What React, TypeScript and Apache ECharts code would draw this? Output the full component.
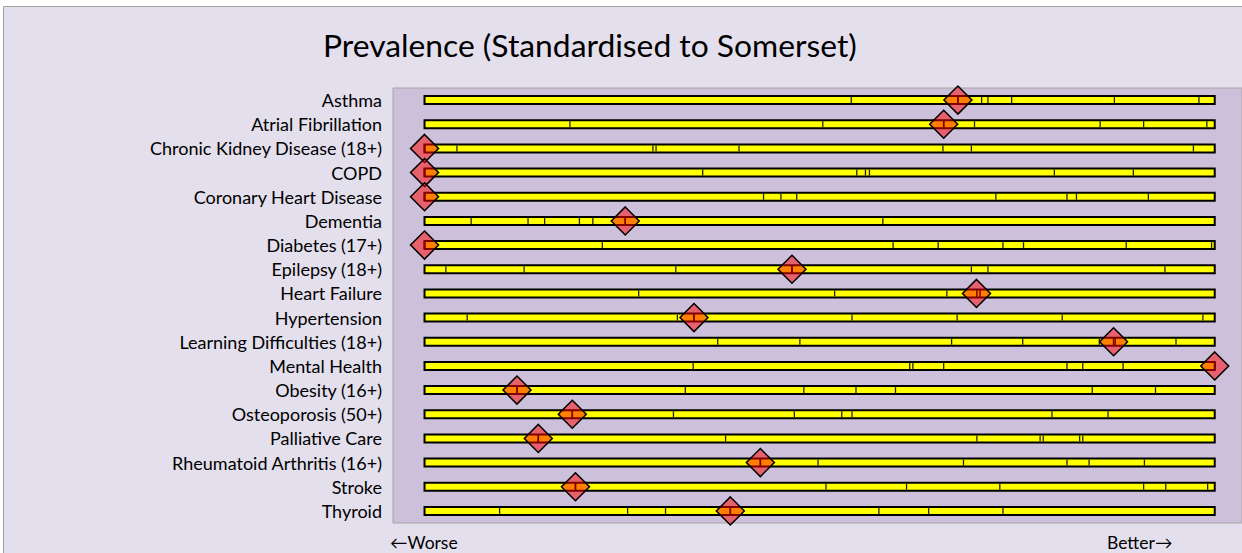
import React, { useEffect, useRef } from "react";
import * as echarts from "echarts";

const categories = [
  "Asthma",
  "Atrial Fibrillation",
  "Chronic Kidney Disease (18+)",
  "COPD",
  "Coronary Heart Disease",
  "Dementia",
  "Diabetes (17+)",
  "Epilepsy (18+)",
  "Heart Failure",
  "Hypertension",
  "Learning Difficulties (18+)",
  "Mental Health",
  "Obesity (16+)",
  "Osteoporosis (50+)",
  "Palliative Care",
  "Rheumatoid Arthritis (16+)",
  "Stroke",
  "Thyroid",
];

// position of the practice boundaries along each bar (0 = worst, 100 = best)
const segmentBreaks = [
  [54.0, 70.5, 71.3, 74.3, 87.3, 98.0],
  [18.4, 50.4, 69.6, 85.5, 91.0, 99.0],
  [4.1, 28.9, 29.3, 39.8, 65.6, 69.2, 97.3],
  [35.2, 54.7, 55.8, 56.3, 79.7, 89.7],
  [42.9, 45.1, 47.1, 72.3, 81.3, 82.5, 91.6],
  [5.9, 13.1, 15.2, 19.6, 21.3, 58.0],
  [22.5, 59.3, 65.0, 73.2, 75.8, 88.8, 99.6],
  [2.7, 12.6, 31.8, 69.2, 71.3, 93.7],
  [27.1, 51.9, 66.1],
  [5.4, 32.0, 54.1, 67.4, 80.7, 98.5],
  [37.1, 47.5, 66.7, 75.7, 85.4, 95.1],
  [34.0, 61.4, 61.8, 65.7, 81.3, 83.3, 88.4],
  [33.0, 48.0, 54.6, 59.6, 84.5, 92.5],
  [31.5, 46.8, 52.8, 54.1, 79.4, 86.5],
  [38.1, 69.9, 77.9, 78.3, 82.9, 83.3],
  [49.8, 68.2, 81.3, 84.1, 91.1],
  [50.8, 61.0, 72.8, 91.0, 93.8, 99.1],
  [9.5, 25.7, 30.5, 57.5, 63.8, 73.2],
];

const barStart = [0, 0, 0, 0, 0, 0, 0, 0, 0, 0, 0, 0, 0, 0, 0, 0, 0, 0];
const barEnd = [100, 100, 100, 100, 100, 100, 100, 100, 100, 100, 100, 100, 100, 100, 100, 100, 100, 100];

const markerValues = [67.5, 65.7, 0, 0, 0, 25.4, 0, 46.5, 69.85, 34.1, 87.2, 100, 11.7, 18.7, 14.4, 42.5, 19.1, 38.7];
const ciLow = [67.5, 65.7, 0, 0, 0, 25.4, 0, 46.5, 69.9, 34.1, 87.2, 100, 11.7, 18.7, 14.4, 42.5, 19.1, 38.7];
const ciHigh = [67.5, 65.7, 0, 0, 0, 25.4, 0, 46.5, 70.3, 34.1, 87.4, 100, 11.7, 18.7, 14.4, 42.5, 19.1, 38.7];

const titleText = "Prevalence (Standardised to Somerset)";
const worseLabel = "←Worse";
const betterLabel = "Better→";

const FONT = "Lato, 'Noto Sans', sans-serif";

export default function App() {
  const ref = useRef<HTMLDivElement>(null);

  useEffect(() => {
    document.body.style.margin = "0";
    if (!ref.current) return;
    const chart = echarts.init(ref.current, null, { renderer: "svg" });
    const BAR_H = 8;

    const option: any = {
      animation: false,
      backgroundColor: "#FFFFFF",
      grid: {
        left: 393,
        top: 88,
        right: 0,
        bottom: 30,
        show: true,
        backgroundColor: "#CCC0DA",
        borderColor: "#A6A6A6",
        borderWidth: 1,
      },
      xAxis: {
        type: "value",
        min: -3.99,
        max: 103.45,
        show: false,
        splitLine: { show: false },
      },
      yAxis: {
        type: "category",
        data: categories,
        inverse: true,
        axisLine: { show: false },
        axisTick: { show: false },
        splitLine: { show: false },
        axisLabel: {
          margin: 11,
          fontSize: 18,
          fontFamily: FONT,
          color: "#000000",
        },
      },
      graphic: [
        {
          type: "rect",
          z: -100,
          silent: true,
          shape: { x: 3.5, y: 6.5, width: 1245, height: 560 },
          style: { fill: "#E4DFEC", stroke: "#A0A0A0", lineWidth: 1 },
        },
        {
          type: "text",
          z: 100,
          x: 323,
          y: 45,
          style: {
            text: titleText,
            fontSize: 31.8,
            fontFamily: FONT,
            fill: "#000000",
            textVerticalAlign: "middle",
            textAlign: "left",
          },
        },
        {
          type: "text",
          z: 100,
          x: 390,
          y: 542,
          style: {
            text: worseLabel,
            fontSize: 17.5,
            fontFamily: FONT,
            fill: "#000000",
            textVerticalAlign: "middle",
            textAlign: "left",
          },
        },
        {
          type: "text",
          z: 100,
          x: 1107,
          y: 542,
          style: {
            text: betterLabel,
            fontSize: 17.5,
            fontFamily: FONT,
            fill: "#000000",
            textVerticalAlign: "middle",
            textAlign: "left",
          },
        },
      ],
      series: [
        {
          type: "custom",
          name: "bars",
          z: 2,
          encode: { x: [0, 1], y: 2 },
          data: categories.map((_, i) => [barStart[i], barEnd[i], i]),
          renderItem: (params: any, api: any) => {
            const row = api.value(2);
            const s = api.coord([api.value(0), row]);
            const e = api.coord([api.value(1), row]);
            const cy = s[1];
            const children: any[] = [
              {
                type: "rect",
                shape: { x: s[0], y: cy - BAR_H / 2, width: e[0] - s[0], height: BAR_H },
                style: { fill: "#FFFF00", stroke: "#000000", lineWidth: 2 },
              },
            ];
            for (const b of segmentBreaks[params.dataIndex]) {
              const p = api.coord([b, row]);
              children.push({
                type: "line",
                shape: { x1: p[0], y1: cy - BAR_H / 2 + 1, x2: p[0], y2: cy + BAR_H / 2 - 1 },
                style: { stroke: "#222222", lineWidth: 1.3 },
              });
            }
            return { type: "group", children };
          },
        },
        {
          type: "custom",
          name: "ci",
          z: 3,
          encode: { x: [0, 1], y: 2 },
          data: categories.map((_, i) => [ciLow[i], ciHigh[i], i]),
          renderItem: (params: any, api: any) => {
            const row = api.value(2);
            const lo = api.coord([api.value(0), row]);
            const hi = api.coord([api.value(1), row]);
            const cy = lo[1];
            return {
              type: "group",
              children: [
                {
                  type: "line",
                  shape: { x1: lo[0], y1: cy - BAR_H / 2, x2: lo[0], y2: cy + BAR_H / 2 },
                  style: { stroke: "#000000", lineWidth: 1.5 },
                },
                {
                  type: "line",
                  shape: { x1: hi[0], y1: cy - BAR_H / 2, x2: hi[0], y2: cy + BAR_H / 2 },
                  style: { stroke: "#000000", lineWidth: 1.5 },
                },
              ],
            };
          },
        },
        {
          type: "scatter",
          name: "value",
          z: 4,
          symbol: "diamond",
          symbolSize: 28,
          data: markerValues.map((v, i) => [v, i]),
          itemStyle: {
            color: "rgba(255,0,0,0.5)",
            borderColor: "#000000",
            borderWidth: 1.5,
            opacity: 1,
          },
        },
      ],
    };

    chart.setOption(option);
    return () => chart.dispose();
  }, []);

  return (
    <div
      ref={ref}
      style={{ position: "absolute", left: 0, top: 0, width: 1242, height: 553 }}
    />
  );
}
